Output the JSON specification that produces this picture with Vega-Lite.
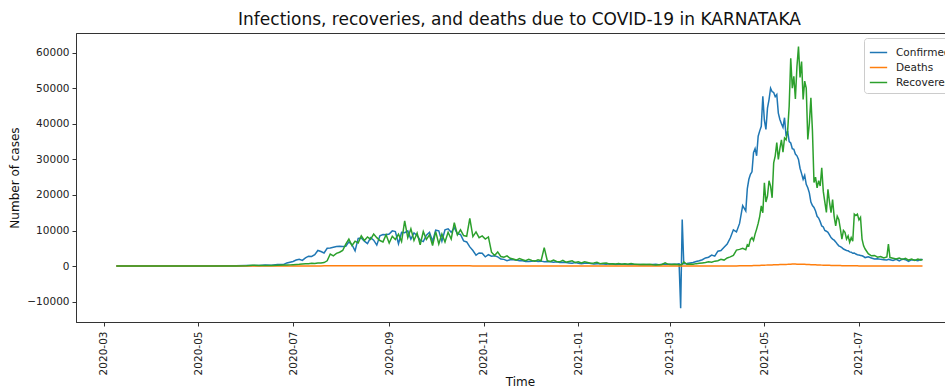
{
  "$schema": "https://vega.github.io/schema/vega-lite/v6.json",
  "width": 869,
  "height": 289,
  "autosize": "none",
  "padding": {"left": 76, "top": 33, "right": 0, "bottom": 68},
  "title": {"text": "Infections, recoveries, and deaths due to COVID-19 in KARNATAKA", "font": "DejaVu Sans", "fontSize": 17, "fontWeight": "normal", "color": "#111", "anchor": "middle", "offset": 4, "dx": 9},
  "config": {
    "font": "DejaVu Sans",
    "view": {"stroke": "#333", "strokeWidth": 1}
  },
  "data": {"values": [
    {"date":"2020-03-09","Confirmed":1,"Deaths":0,"Recovered":0},
    {"date":"2020-03-16","Confirmed":3,"Deaths":0,"Recovered":0},
    {"date":"2020-03-23","Confirmed":8,"Deaths":0,"Recovered":1},
    {"date":"2020-03-30","Confirmed":10,"Deaths":1,"Recovered":3},
    {"date":"2020-04-06","Confirmed":12,"Deaths":0,"Recovered":5},
    {"date":"2020-04-13","Confirmed":15,"Deaths":1,"Recovered":8},
    {"date":"2020-04-20","Confirmed":10,"Deaths":0,"Recovered":12},
    {"date":"2020-04-27","Confirmed":20,"Deaths":1,"Recovered":10},
    {"date":"2020-05-04","Confirmed":30,"Deaths":0,"Recovered":20},
    {"date":"2020-05-11","Confirmed":50,"Deaths":1,"Recovered":25},
    {"date":"2020-05-18","Confirmed":100,"Deaths":1,"Recovered":30},
    {"date":"2020-05-25","Confirmed":130,"Deaths":1,"Recovered":50},
    {"date":"2020-06-01","Confirmed":190,"Deaths":2,"Recovered":80},
    {"date":"2020-06-05","Confirmed":160,"Deaths":1,"Recovered":250},
    {"date":"2020-06-09","Confirmed":160,"Deaths":3,"Recovered":200},
    {"date":"2020-06-13","Confirmed":300,"Deaths":5,"Recovered":150},
    {"date":"2020-06-17","Confirmed":250,"Deaths":3,"Recovered":150},
    {"date":"2020-06-21","Confirmed":450,"Deaths":8,"Recovered":250},
    {"date":"2020-06-25","Confirmed":450,"Deaths":10,"Recovered":300},
    {"date":"2020-06-27","Confirmed":900,"Deaths":15,"Recovered":300},
    {"date":"2020-06-29","Confirmed":1100,"Deaths":18,"Recovered":350},
    {"date":"2020-07-01","Confirmed":1300,"Deaths":20,"Recovered":400},
    {"date":"2020-07-03","Confirmed":1700,"Deaths":25,"Recovered":450},
    {"date":"2020-07-05","Confirmed":1900,"Deaths":30,"Recovered":500},
    {"date":"2020-07-07","Confirmed":1600,"Deaths":35,"Recovered":600},
    {"date":"2020-07-09","Confirmed":2300,"Deaths":40,"Recovered":700},
    {"date":"2020-07-11","Confirmed":2800,"Deaths":45,"Recovered":650},
    {"date":"2020-07-13","Confirmed":2700,"Deaths":50,"Recovered":800},
    {"date":"2020-07-15","Confirmed":3200,"Deaths":55,"Recovered":750},
    {"date":"2020-07-17","Confirmed":4400,"Deaths":60,"Recovered":900},
    {"date":"2020-07-19","Confirmed":4100,"Deaths":65,"Recovered":850},
    {"date":"2020-07-21","Confirmed":3700,"Deaths":70,"Recovered":1000},
    {"date":"2020-07-23","Confirmed":5000,"Deaths":75,"Recovered":1500},
    {"date":"2020-07-25","Confirmed":5100,"Deaths":80,"Recovered":3400},
    {"date":"2020-07-27","Confirmed":5300,"Deaths":80,"Recovered":2900},
    {"date":"2020-07-29","Confirmed":5500,"Deaths":85,"Recovered":3600},
    {"date":"2020-07-31","Confirmed":5600,"Deaths":85,"Recovered":3900},
    {"date":"2020-08-02","Confirmed":5500,"Deaths":90,"Recovered":4400},
    {"date":"2020-08-04","Confirmed":5600,"Deaths":90,"Recovered":6200},
    {"date":"2020-08-06","Confirmed":6800,"Deaths":95,"Recovered":7600},
    {"date":"2020-08-08","Confirmed":6000,"Deaths":95,"Recovered":5800},
    {"date":"2020-08-10","Confirmed":4300,"Deaths":95,"Recovered":7000},
    {"date":"2020-08-12","Confirmed":7800,"Deaths":100,"Recovered":6500},
    {"date":"2020-08-14","Confirmed":7900,"Deaths":100,"Recovered":8500},
    {"date":"2020-08-16","Confirmed":7000,"Deaths":100,"Recovered":7200},
    {"date":"2020-08-18","Confirmed":6300,"Deaths":100,"Recovered":8200},
    {"date":"2020-08-20","Confirmed":8000,"Deaths":105,"Recovered":7500},
    {"date":"2020-08-22","Confirmed":7300,"Deaths":105,"Recovered":9000},
    {"date":"2020-08-24","Confirmed":5900,"Deaths":100,"Recovered":8000},
    {"date":"2020-08-26","Confirmed":8500,"Deaths":105,"Recovered":7200},
    {"date":"2020-08-28","Confirmed":8900,"Deaths":110,"Recovered":6800},
    {"date":"2020-08-30","Confirmed":8800,"Deaths":110,"Recovered":8800},
    {"date":"2020-09-01","Confirmed":9000,"Deaths":115,"Recovered":6500},
    {"date":"2020-09-03","Confirmed":9900,"Deaths":115,"Recovered":8400},
    {"date":"2020-09-05","Confirmed":9700,"Deaths":110,"Recovered":7500},
    {"date":"2020-09-07","Confirmed":6300,"Deaths":110,"Recovered":9000},
    {"date":"2020-09-09","Confirmed":9500,"Deaths":115,"Recovered":6900},
    {"date":"2020-09-11","Confirmed":9400,"Deaths":110,"Recovered":12700},
    {"date":"2020-09-13","Confirmed":9900,"Deaths":110,"Recovered":8000},
    {"date":"2020-09-15","Confirmed":7600,"Deaths":105,"Recovered":10500},
    {"date":"2020-09-17","Confirmed":9300,"Deaths":110,"Recovered":7200},
    {"date":"2020-09-19","Confirmed":8600,"Deaths":105,"Recovered":9300},
    {"date":"2020-09-21","Confirmed":7300,"Deaths":105,"Recovered":6000},
    {"date":"2020-09-23","Confirmed":6900,"Deaths":100,"Recovered":9700},
    {"date":"2020-09-25","Confirmed":8700,"Deaths":100,"Recovered":7500},
    {"date":"2020-09-27","Confirmed":9500,"Deaths":100,"Recovered":8800},
    {"date":"2020-09-29","Confirmed":7000,"Deaths":100,"Recovered":5800},
    {"date":"2020-10-01","Confirmed":10100,"Deaths":105,"Recovered":9700},
    {"date":"2020-10-03","Confirmed":9900,"Deaths":105,"Recovered":6200},
    {"date":"2020-10-05","Confirmed":7000,"Deaths":100,"Recovered":9000},
    {"date":"2020-10-07","Confirmed":10200,"Deaths":100,"Recovered":6800},
    {"date":"2020-10-09","Confirmed":10500,"Deaths":95,"Recovered":9500},
    {"date":"2020-10-11","Confirmed":9500,"Deaths":100,"Recovered":7600},
    {"date":"2020-10-13","Confirmed":10800,"Deaths":95,"Recovered":12200},
    {"date":"2020-10-15","Confirmed":9100,"Deaths":90,"Recovered":8800},
    {"date":"2020-10-17","Confirmed":8900,"Deaths":85,"Recovered":10200},
    {"date":"2020-10-19","Confirmed":7100,"Deaths":80,"Recovered":8600},
    {"date":"2020-10-21","Confirmed":6800,"Deaths":75,"Recovered":8400},
    {"date":"2020-10-23","Confirmed":5400,"Deaths":70,"Recovered":13400},
    {"date":"2020-10-25","Confirmed":4400,"Deaths":65,"Recovered":8300},
    {"date":"2020-10-27","Confirmed":3100,"Deaths":60,"Recovered":9600},
    {"date":"2020-10-29","Confirmed":3700,"Deaths":55,"Recovered":8000},
    {"date":"2020-10-31","Confirmed":3600,"Deaths":50,"Recovered":8500},
    {"date":"2020-11-02","Confirmed":2600,"Deaths":45,"Recovered":7600},
    {"date":"2020-11-04","Confirmed":3200,"Deaths":40,"Recovered":8200},
    {"date":"2020-11-06","Confirmed":2800,"Deaths":35,"Recovered":3900},
    {"date":"2020-11-08","Confirmed":2900,"Deaths":30,"Recovered":3000},
    {"date":"2020-11-10","Confirmed":2600,"Deaths":25,"Recovered":4000},
    {"date":"2020-11-12","Confirmed":2000,"Deaths":25,"Recovered":2700},
    {"date":"2020-11-14","Confirmed":1900,"Deaths":20,"Recovered":2500},
    {"date":"2020-11-16","Confirmed":1500,"Deaths":20,"Recovered":2900},
    {"date":"2020-11-18","Confirmed":1800,"Deaths":20,"Recovered":2200},
    {"date":"2020-11-20","Confirmed":1800,"Deaths":18,"Recovered":2000},
    {"date":"2020-11-22","Confirmed":1700,"Deaths":18,"Recovered":1700},
    {"date":"2020-11-24","Confirmed":1500,"Deaths":18,"Recovered":2100},
    {"date":"2020-11-26","Confirmed":1500,"Deaths":15,"Recovered":1800},
    {"date":"2020-11-28","Confirmed":1300,"Deaths":15,"Recovered":1500},
    {"date":"2020-11-30","Confirmed":1300,"Deaths":15,"Recovered":1900},
    {"date":"2020-12-02","Confirmed":1400,"Deaths":15,"Recovered":1600},
    {"date":"2020-12-04","Confirmed":1500,"Deaths":15,"Recovered":1400},
    {"date":"2020-12-06","Confirmed":1300,"Deaths":12,"Recovered":1800},
    {"date":"2020-12-08","Confirmed":1400,"Deaths":12,"Recovered":1500},
    {"date":"2020-12-10","Confirmed":1200,"Deaths":12,"Recovered":5200},
    {"date":"2020-12-12","Confirmed":1300,"Deaths":12,"Recovered":1500},
    {"date":"2020-12-14","Confirmed":1200,"Deaths":12,"Recovered":1300},
    {"date":"2020-12-16","Confirmed":1100,"Deaths":10,"Recovered":1700},
    {"date":"2020-12-18","Confirmed":1200,"Deaths":10,"Recovered":1300},
    {"date":"2020-12-20","Confirmed":1000,"Deaths":10,"Recovered":1200},
    {"date":"2020-12-22","Confirmed":1100,"Deaths":10,"Recovered":1600},
    {"date":"2020-12-24","Confirmed":1000,"Deaths":10,"Recovered":1100},
    {"date":"2020-12-26","Confirmed":900,"Deaths":8,"Recovered":1300},
    {"date":"2020-12-28","Confirmed":800,"Deaths":8,"Recovered":1500},
    {"date":"2020-12-30","Confirmed":1000,"Deaths":8,"Recovered":1000},
    {"date":"2021-01-01","Confirmed":800,"Deaths":6,"Recovered":1200},
    {"date":"2021-01-03","Confirmed":700,"Deaths":6,"Recovered":900},
    {"date":"2021-01-05","Confirmed":800,"Deaths":6,"Recovered":1200},
    {"date":"2021-01-07","Confirmed":850,"Deaths":6,"Recovered":1000},
    {"date":"2021-01-09","Confirmed":750,"Deaths":5,"Recovered":800},
    {"date":"2021-01-11","Confirmed":600,"Deaths":5,"Recovered":900},
    {"date":"2021-01-13","Confirmed":700,"Deaths":5,"Recovered":1100},
    {"date":"2021-01-15","Confirmed":650,"Deaths":5,"Recovered":700},
    {"date":"2021-01-17","Confirmed":600,"Deaths":5,"Recovered":800},
    {"date":"2021-01-19","Confirmed":550,"Deaths":4,"Recovered":900},
    {"date":"2021-01-21","Confirmed":650,"Deaths":4,"Recovered":600},
    {"date":"2021-01-23","Confirmed":600,"Deaths":4,"Recovered":700},
    {"date":"2021-01-25","Confirmed":450,"Deaths":4,"Recovered":600},
    {"date":"2021-01-27","Confirmed":500,"Deaths":4,"Recovered":700},
    {"date":"2021-01-29","Confirmed":550,"Deaths":4,"Recovered":500},
    {"date":"2021-01-31","Confirmed":500,"Deaths":4,"Recovered":650},
    {"date":"2021-02-02","Confirmed":450,"Deaths":4,"Recovered":550},
    {"date":"2021-02-04","Confirmed":500,"Deaths":3,"Recovered":700},
    {"date":"2021-02-06","Confirmed":450,"Deaths":3,"Recovered":500},
    {"date":"2021-02-08","Confirmed":400,"Deaths":3,"Recovered":550},
    {"date":"2021-02-10","Confirmed":450,"Deaths":3,"Recovered":450},
    {"date":"2021-02-12","Confirmed":400,"Deaths":3,"Recovered":500},
    {"date":"2021-02-14","Confirmed":450,"Deaths":3,"Recovered":450},
    {"date":"2021-02-16","Confirmed":400,"Deaths":3,"Recovered":500},
    {"date":"2021-02-18","Confirmed":450,"Deaths":3,"Recovered":400},
    {"date":"2021-02-20","Confirmed":500,"Deaths":3,"Recovered":350},
    {"date":"2021-02-22","Confirmed":400,"Deaths":3,"Recovered":400},
    {"date":"2021-02-24","Confirmed":500,"Deaths":3,"Recovered":450},
    {"date":"2021-02-26","Confirmed":550,"Deaths":4,"Recovered":900},
    {"date":"2021-02-28","Confirmed":500,"Deaths":4,"Recovered":500},
    {"date":"2021-03-02","Confirmed":500,"Deaths":4,"Recovered":450},
    {"date":"2021-03-04","Confirmed":550,"Deaths":4,"Recovered":500},
    {"date":"2021-03-06","Confirmed":600,"Deaths":4,"Recovered":450},
    {"date":"2021-03-07","Confirmed":650,"Deaths":4,"Recovered":400},
    {"date":"2021-03-08","Confirmed":-11800,"Deaths":4,"Recovered":400},
    {"date":"2021-03-09","Confirmed":13100,"Deaths":4,"Recovered":500},
    {"date":"2021-03-10","Confirmed":700,"Deaths":5,"Recovered":1200},
    {"date":"2021-03-12","Confirmed":750,"Deaths":5,"Recovered":500},
    {"date":"2021-03-14","Confirmed":900,"Deaths":6,"Recovered":600},
    {"date":"2021-03-16","Confirmed":1000,"Deaths":6,"Recovered":500},
    {"date":"2021-03-18","Confirmed":1300,"Deaths":7,"Recovered":700},
    {"date":"2021-03-20","Confirmed":1500,"Deaths":8,"Recovered":800},
    {"date":"2021-03-22","Confirmed":1800,"Deaths":9,"Recovered":900},
    {"date":"2021-03-24","Confirmed":2300,"Deaths":10,"Recovered":1000},
    {"date":"2021-03-26","Confirmed":2500,"Deaths":12,"Recovered":1200},
    {"date":"2021-03-28","Confirmed":3100,"Deaths":14,"Recovered":1100},
    {"date":"2021-03-30","Confirmed":2800,"Deaths":15,"Recovered":1400},
    {"date":"2021-04-01","Confirmed":4200,"Deaths":18,"Recovered":1500},
    {"date":"2021-04-03","Confirmed":4400,"Deaths":20,"Recovered":1900},
    {"date":"2021-04-05","Confirmed":5300,"Deaths":25,"Recovered":1700},
    {"date":"2021-04-07","Confirmed":6200,"Deaths":30,"Recovered":2300},
    {"date":"2021-04-09","Confirmed":7900,"Deaths":35,"Recovered":2600},
    {"date":"2021-04-11","Confirmed":10200,"Deaths":45,"Recovered":3000},
    {"date":"2021-04-13","Confirmed":9600,"Deaths":55,"Recovered":4500},
    {"date":"2021-04-15","Confirmed":12000,"Deaths":70,"Recovered":4700},
    {"date":"2021-04-17","Confirmed":17000,"Deaths":80,"Recovered":5000},
    {"date":"2021-04-19","Confirmed":15500,"Deaths":95,"Recovered":4600},
    {"date":"2021-04-20","Confirmed":21800,"Deaths":110,"Recovered":6000},
    {"date":"2021-04-21","Confirmed":24400,"Deaths":120,"Recovered":5700},
    {"date":"2021-04-22","Confirmed":25800,"Deaths":125,"Recovered":7500},
    {"date":"2021-04-23","Confirmed":26500,"Deaths":130,"Recovered":8000},
    {"date":"2021-04-24","Confirmed":31900,"Deaths":140,"Recovered":7200},
    {"date":"2021-04-25","Confirmed":33000,"Deaths":150,"Recovered":9000},
    {"date":"2021-04-26","Confirmed":31000,"Deaths":160,"Recovered":10400},
    {"date":"2021-04-27","Confirmed":36500,"Deaths":180,"Recovered":12000},
    {"date":"2021-04-28","Confirmed":38000,"Deaths":200,"Recovered":14000},
    {"date":"2021-04-29","Confirmed":39300,"Deaths":220,"Recovered":16900},
    {"date":"2021-04-30","Confirmed":47700,"Deaths":240,"Recovered":15000},
    {"date":"2021-05-01","Confirmed":41000,"Deaths":260,"Recovered":23400},
    {"date":"2021-05-02","Confirmed":38400,"Deaths":280,"Recovered":18000},
    {"date":"2021-05-03","Confirmed":44400,"Deaths":300,"Recovered":19700},
    {"date":"2021-05-04","Confirmed":46800,"Deaths":320,"Recovered":24000},
    {"date":"2021-05-05","Confirmed":50000,"Deaths":340,"Recovered":22500},
    {"date":"2021-05-06","Confirmed":49000,"Deaths":350,"Recovered":19200},
    {"date":"2021-05-07","Confirmed":48800,"Deaths":370,"Recovered":29000},
    {"date":"2021-05-08","Confirmed":47600,"Deaths":390,"Recovered":31000},
    {"date":"2021-05-09","Confirmed":48200,"Deaths":410,"Recovered":34700},
    {"date":"2021-05-10","Confirmed":43000,"Deaths":420,"Recovered":30000},
    {"date":"2021-05-11","Confirmed":41200,"Deaths":440,"Recovered":33000},
    {"date":"2021-05-12","Confirmed":40000,"Deaths":450,"Recovered":35500},
    {"date":"2021-05-13","Confirmed":39000,"Deaths":460,"Recovered":32000},
    {"date":"2021-05-14","Confirmed":41700,"Deaths":480,"Recovered":36000},
    {"date":"2021-05-15","Confirmed":36500,"Deaths":490,"Recovered":35500},
    {"date":"2021-05-16","Confirmed":38000,"Deaths":500,"Recovered":38000},
    {"date":"2021-05-17","Confirmed":35000,"Deaths":520,"Recovered":45000},
    {"date":"2021-05-18","Confirmed":34600,"Deaths":560,"Recovered":58400},
    {"date":"2021-05-19","Confirmed":33000,"Deaths":580,"Recovered":50000},
    {"date":"2021-05-20","Confirmed":32800,"Deaths":600,"Recovered":53300},
    {"date":"2021-05-21","Confirmed":31500,"Deaths":580,"Recovered":47000},
    {"date":"2021-05-22","Confirmed":31000,"Deaths":560,"Recovered":56000},
    {"date":"2021-05-23","Confirmed":30000,"Deaths":550,"Recovered":61700},
    {"date":"2021-05-24","Confirmed":27500,"Deaths":540,"Recovered":53000},
    {"date":"2021-05-25","Confirmed":26000,"Deaths":530,"Recovered":57500},
    {"date":"2021-05-26","Confirmed":24400,"Deaths":520,"Recovered":46800},
    {"date":"2021-05-27","Confirmed":25500,"Deaths":500,"Recovered":52000},
    {"date":"2021-05-28","Confirmed":23000,"Deaths":480,"Recovered":50000},
    {"date":"2021-05-29","Confirmed":22000,"Deaths":460,"Recovered":35600},
    {"date":"2021-05-30","Confirmed":20600,"Deaths":440,"Recovered":40000},
    {"date":"2021-05-31","Confirmed":18000,"Deaths":420,"Recovered":47300},
    {"date":"2021-06-01","Confirmed":17000,"Deaths":400,"Recovered":38000},
    {"date":"2021-06-02","Confirmed":16500,"Deaths":380,"Recovered":23500},
    {"date":"2021-06-03","Confirmed":15500,"Deaths":360,"Recovered":25000},
    {"date":"2021-06-04","Confirmed":14000,"Deaths":340,"Recovered":22000},
    {"date":"2021-06-05","Confirmed":13500,"Deaths":320,"Recovered":24000},
    {"date":"2021-06-06","Confirmed":12500,"Deaths":300,"Recovered":22500},
    {"date":"2021-06-07","Confirmed":11300,"Deaths":280,"Recovered":27600},
    {"date":"2021-06-08","Confirmed":11000,"Deaths":260,"Recovered":21000},
    {"date":"2021-06-09","Confirmed":10000,"Deaths":250,"Recovered":18000},
    {"date":"2021-06-10","Confirmed":9800,"Deaths":240,"Recovered":15100},
    {"date":"2021-06-11","Confirmed":9500,"Deaths":230,"Recovered":21600},
    {"date":"2021-06-12","Confirmed":8800,"Deaths":220,"Recovered":18000},
    {"date":"2021-06-13","Confirmed":8000,"Deaths":200,"Recovered":15000},
    {"date":"2021-06-14","Confirmed":7600,"Deaths":190,"Recovered":18700},
    {"date":"2021-06-15","Confirmed":7300,"Deaths":180,"Recovered":14000},
    {"date":"2021-06-16","Confirmed":6800,"Deaths":170,"Recovered":11300},
    {"date":"2021-06-17","Confirmed":6200,"Deaths":160,"Recovered":14000},
    {"date":"2021-06-18","Confirmed":5700,"Deaths":150,"Recovered":13100},
    {"date":"2021-06-19","Confirmed":5500,"Deaths":140,"Recovered":10500},
    {"date":"2021-06-20","Confirmed":5200,"Deaths":130,"Recovered":7600},
    {"date":"2021-06-21","Confirmed":4800,"Deaths":120,"Recovered":10000},
    {"date":"2021-06-22","Confirmed":4600,"Deaths":110,"Recovered":9500},
    {"date":"2021-06-23","Confirmed":4400,"Deaths":105,"Recovered":7600},
    {"date":"2021-06-24","Confirmed":4300,"Deaths":100,"Recovered":8500},
    {"date":"2021-06-25","Confirmed":4000,"Deaths":95,"Recovered":6700},
    {"date":"2021-06-26","Confirmed":3900,"Deaths":90,"Recovered":8000},
    {"date":"2021-06-27","Confirmed":3600,"Deaths":85,"Recovered":7000},
    {"date":"2021-06-28","Confirmed":3700,"Deaths":80,"Recovered":14600},
    {"date":"2021-06-29","Confirmed":3400,"Deaths":75,"Recovered":14200},
    {"date":"2021-06-30","Confirmed":3200,"Deaths":70,"Recovered":14600},
    {"date":"2021-07-01","Confirmed":3100,"Deaths":65,"Recovered":13000},
    {"date":"2021-07-02","Confirmed":3000,"Deaths":60,"Recovered":13700},
    {"date":"2021-07-03","Confirmed":2900,"Deaths":55,"Recovered":7600},
    {"date":"2021-07-04","Confirmed":2700,"Deaths":50,"Recovered":5700},
    {"date":"2021-07-05","Confirmed":2400,"Deaths":48,"Recovered":4800},
    {"date":"2021-07-07","Confirmed":2600,"Deaths":45,"Recovered":3500},
    {"date":"2021-07-09","Confirmed":2300,"Deaths":42,"Recovered":2900},
    {"date":"2021-07-11","Confirmed":2000,"Deaths":40,"Recovered":3000},
    {"date":"2021-07-13","Confirmed":2100,"Deaths":38,"Recovered":2500},
    {"date":"2021-07-15","Confirmed":1900,"Deaths":36,"Recovered":2700},
    {"date":"2021-07-17","Confirmed":1800,"Deaths":35,"Recovered":2300},
    {"date":"2021-07-19","Confirmed":1700,"Deaths":34,"Recovered":2600},
    {"date":"2021-07-20","Confirmed":1900,"Deaths":33,"Recovered":6200},
    {"date":"2021-07-21","Confirmed":1800,"Deaths":32,"Recovered":2400},
    {"date":"2021-07-23","Confirmed":1600,"Deaths":30,"Recovered":2200},
    {"date":"2021-07-25","Confirmed":1900,"Deaths":30,"Recovered":2000},
    {"date":"2021-07-27","Confirmed":1500,"Deaths":29,"Recovered":2300},
    {"date":"2021-07-29","Confirmed":2000,"Deaths":28,"Recovered":1900},
    {"date":"2021-07-31","Confirmed":1800,"Deaths":27,"Recovered":2200},
    {"date":"2021-08-02","Confirmed":1300,"Deaths":26,"Recovered":1700},
    {"date":"2021-08-04","Confirmed":1800,"Deaths":25,"Recovered":2000},
    {"date":"2021-08-06","Confirmed":1700,"Deaths":25,"Recovered":1600},
    {"date":"2021-08-08","Confirmed":1500,"Deaths":24,"Recovered":2000},
    {"date":"2021-08-10","Confirmed":1900,"Deaths":23,"Recovered":1700},
    {"date":"2021-08-11","Confirmed":1800,"Deaths":22,"Recovered":1900}
  ]},
  "transform": [{"fold": ["Confirmed", "Deaths", "Recovered"], "as": ["series", "value"]}],
  "mark": {"type": "line", "strokeWidth": 1.5, "clip": true},
  "encoding": {
    "x": {
      "field": "date", "type": "temporal",
      "scale": {"type": "utc", "domain": [{"year": 2020, "month": "feb", "date": 12, "utc": true}, {"year": 2021, "month": "aug", "date": 25, "hours": 12, "utc": true}], "nice": false},
      "axis": {
        "title": "Time", "titleFontSize": 12, "titleFontWeight": "normal", "titleColor": "#111", "titlePadding": 2, "titleX": 444,
        "values": [
          {"year": 2020, "month": "mar", "date": 1, "utc": true},
          {"year": 2020, "month": "may", "date": 1, "utc": true},
          {"year": 2020, "month": "jul", "date": 1, "utc": true},
          {"year": 2020, "month": "sep", "date": 1, "utc": true},
          {"year": 2020, "month": "nov", "date": 1, "utc": true},
          {"year": 2021, "month": "jan", "date": 1, "utc": true},
          {"year": 2021, "month": "mar", "date": 1, "utc": true},
          {"year": 2021, "month": "may", "date": 1, "utc": true},
          {"year": 2021, "month": "jul", "date": 1, "utc": true}
        ],
        "format": "%Y-%m", "labelAngle": -90, "labelFontSize": 10.5, "labelColor": "#222", "labelPadding": 5,
        "grid": false, "tickSize": 4, "tickColor": "#333", "domainColor": "#333", "labelFlush": false, "labelOverlap": false
      }
    },
    "y": {
      "field": "value", "type": "quantitative",
      "scale": {"domain": [-15700, 65500], "nice": false, "zero": false},
      "axis": {
        "title": "Number of cases", "titleFontSize": 12, "titleFontWeight": "normal", "titleColor": "#111", "titlePadding": 5,
        "values": [-10000, 0, 10000, 20000, 30000, 40000, 50000, 60000], "format": "d",
        "labelFontSize": 10.5, "labelColor": "#222", "labelPadding": 3,
        "grid": false, "tickSize": 4, "tickColor": "#333", "domainColor": "#333"
      }
    },
    "color": {
      "field": "series", "type": "nominal",
      "scale": {"domain": ["Confirmed", "Deaths", "Recovered"], "range": ["#1f77b4", "#ff7f0e", "#2ca02c"]},
      "legend": {
        "title": null, "orient": "none", "legendX": 788, "legendY": 5,
        "symbolType": "stroke", "symbolSize": 300, "symbolStrokeWidth": 1.5,
        "labelFontSize": 10.5, "labelColor": "#222", "labelOffset": 8, "rowPadding": -2,
        "fillColor": "white", "strokeColor": "#ccc", "cornerRadius": 3, "padding": 5
      }
    }
  }
}
